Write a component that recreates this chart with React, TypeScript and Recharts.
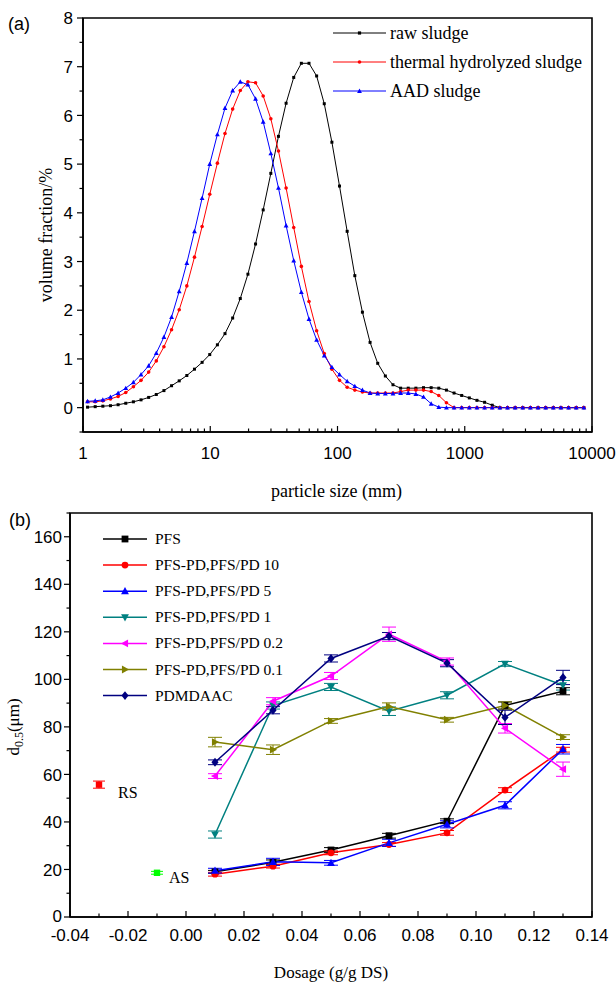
import React from 'react';
import { LineChart, ComposedChart, Line, XAxis, YAxis, ErrorBar, ReferenceArea, Legend } from 'recharts';

// ---------- (a) particle size distribution ----------
const particleSize = [
  1.086, 1.247, 1.432, 1.644, 1.888, 2.168, 2.489, 2.858, 3.281, 3.767,
  4.325, 4.966, 5.702, 6.546, 7.516, 8.63, 9.908, 11.38, 13.06, 15.0,
  17.22, 19.77, 22.7, 26.06, 29.92, 34.36, 39.45, 45.29, 52.0, 59.7,
  68.55, 78.7, 90.36, 103.7, 119.1, 136.8, 157.0, 180.3, 207.0, 237.7,
  272.9, 313.3, 359.7, 413.0, 474.2, 544.5, 625.2, 717.8, 824.1, 946.2,
  1086, 1247, 1432, 1644, 1888, 2168, 2489, 2858, 3281, 3767,
  4325, 4966, 5702, 6546, 7516, 8630,
];
const rawSludge = [
  0.01, 0.02, 0.03, 0.04, 0.06, 0.09, 0.12, 0.16, 0.21, 0.27,
  0.35, 0.45, 0.55, 0.66, 0.79, 0.93, 1.09, 1.29, 1.52, 1.84,
  2.24, 2.74, 3.36, 4.06, 4.81, 5.57, 6.25, 6.78, 7.07, 7.07,
  6.81, 6.24, 5.45, 4.55, 3.62, 2.71, 1.96, 1.34, 0.91, 0.65,
  0.47, 0.4, 0.4, 0.4, 0.41, 0.41, 0.4, 0.36, 0.3, 0.25,
  0.2, 0.15, 0.11, 0.05, 0, 0, 0, 0, 0, 0,
  0, 0, 0, 0, 0, 0,
];
const thermalSludge = [
  0.12, 0.12, 0.14, 0.18, 0.23, 0.31, 0.43, 0.56, 0.73, 0.96,
  1.25, 1.6, 2.01, 2.5, 3.09, 3.72, 4.38, 5.02, 5.63, 6.13,
  6.51, 6.69, 6.67, 6.4, 5.93, 5.27, 4.51, 3.7, 2.9, 2.18,
  1.58, 1.11, 0.79, 0.56, 0.42, 0.36, 0.32, 0.3, 0.3, 0.3,
  0.3, 0.33, 0.36, 0.36, 0.36, 0.33, 0.25, 0.1, 0, 0,
  0, 0, 0, 0, 0, 0, 0, 0, 0, 0,
  0, 0, 0, 0, 0, 0,
];
const aadSludge = [
  0.13, 0.14, 0.16, 0.22, 0.3, 0.4, 0.52, 0.68, 0.86, 1.12,
  1.45, 1.86, 2.39, 2.97, 3.62, 4.3, 5.0, 5.61, 6.15, 6.51,
  6.69, 6.63, 6.34, 5.87, 5.22, 4.51, 3.74, 3.02, 2.37, 1.82,
  1.39, 1.07, 0.83, 0.68, 0.54, 0.44, 0.36, 0.3, 0.29, 0.29,
  0.29, 0.3, 0.3, 0.28, 0.22, 0.08, 0.01, 0, 0, 0,
  0, 0, 0, 0, 0, 0, 0, 0, 0, 0,
  0, 0, 0, 0, 0, 0,
];
const topXMajor = [1, 10, 100, 1000, 10000];
const topXMinorFactors = [2, 3, 4, 5, 6, 7, 8, 9];
const topYMajor = [0, 1, 2, 3, 4, 5, 6, 7, 8];
const topLegendNames = ['raw sludge', 'thermal hydrolyzed sludge', 'AAD sludge'];

// ---------- (b) d0.5 vs dosage ----------
const dosage = [0.01, 0.03, 0.05, 0.07, 0.09, 0.11, 0.13];
const pfs = [19, 23, 28.2, 34.2, 40.3, 89, 95];
const pfsErr = [0.6, 1, 1, 1, 1, 1.5, 1.5];
const pfsPd10 = [18, 21.4, 27, 30.5, 35.4, 53.4, 70.4];
const pfsPd10Err = [0.8, 0.8, 0.8, 0.8, 1, 1, 1];
const pfsPd5 = [19.5, 23.2, 22.8, 31.2, 39, 47, 70.6];
const pfsPd5Err = [1, 1.5, 1, 1.5, 1.5, 1.5, 2];
const pfsPd1 = [34.7, 89, 96.8, 86.6, 93.3, 106.5, 97.5];
const pfsPd1Err = [1.5, 1.5, 1.5, 1.8, 1.5, 1, 2];
const pfsPd02 = [59.3, 90.8, 101.4, 119, 107.5, 79.4, 62.2];
const pfsPd02Err = [1, 1.5, 1.5, 3, 1.5, 2, 3];
const pfsPd01 = [73.6, 70.4, 82.5, 88.6, 83, 89, 75.7];
const pfsPd01Err = [2, 2, 1, 1.5, 1, 1.5, 1];
const pdmdaac = [65.1, 87, 108.8, 118.2, 106.8, 84, 100.8];
const pdmdaacErr = [1, 1.5, 1.5, 1.5, 1.5, 3, 3];
const rsDose = [-0.03];
const rsValue = [55.7];
const rsErr = [1.5];
const asDose = [-0.01];
const asValue = [18.6];
const asErr = [0.6];
const botXMajor = [-0.04, -0.02, 0, 0.02, 0.04, 0.06, 0.08, 0.1, 0.12, 0.14];
const botXMinor = [-0.03, -0.01, 0.01, 0.03, 0.05, 0.07, 0.09, 0.11, 0.13];
const botYMajor = [0, 20, 40, 60, 80, 100, 120, 140, 160];
const botYMinor = [10, 30, 50, 70, 90, 110, 130, 150, 170];

const SANS = '"Liberation Sans", Arial, sans-serif';
const SERIF = '"Liberation Serif", "Times New Roman", serif';

const topData = particleSize.map((x, i) => ({ x, raw: rawSludge[i], th: thermalSludge[i], aad: aadSludge[i] }));
const topXTicks: number[] = [];
topXMajor.forEach((m, i) => {
  topXTicks.push(m);
  if (i < topXMajor.length - 1) topXMinorFactors.forEach((f) => topXTicks.push(f * m));
});
const topYTicks: number[] = [-0.5];
topYMajor.forEach((m, i) => {
  topYTicks.push(m);
  if (i < topYMajor.length - 1) topYTicks.push(m + 0.5);
});

const mk = (vals: number[], errs: number[]) => dosage.map((x, i) => ({ x, y: vals[i], e: errs[i] }));
const botSeries = [
  { name: 'PFS', data: mk(pfs, pfsErr), color: '#000000', kind: 'square' },
  { name: 'PFS-PD,PFS/PD 10', data: mk(pfsPd10, pfsPd10Err), color: '#ff0000', kind: 'circle' },
  { name: 'PFS-PD,PFS/PD 5', data: mk(pfsPd5, pfsPd5Err), color: '#0000ff', kind: 'up' },
  { name: 'PFS-PD,PFS/PD 1', data: mk(pfsPd1, pfsPd1Err), color: '#008080', kind: 'down' },
  { name: 'PFS-PD,PFS/PD 0.2', data: mk(pfsPd02, pfsPd02Err), color: '#ff00ff', kind: 'left' },
  { name: 'PFS-PD,PFS/PD 0.1', data: mk(pfsPd01, pfsPd01Err), color: '#808000', kind: 'right' },
  { name: 'PDMDAAC', data: mk(pdmdaac, pdmdaacErr), color: '#000080', kind: 'diamond' },
];
const rsData = rsDose.map((x, i) => ({ x, y: rsValue[i], e: rsErr[i] }));
const asData = asDose.map((x, i) => ({ x, y: asValue[i], e: asErr[i] }));
const botXTicks = [...botXMajor, ...botXMinor].sort((a, b) => a - b);
const botYTicks = [...botYMajor, ...botYMinor].sort((a, b) => a - b);

function Marker({ kind, cx, cy, s, color }: any) {
  if (cx == null || cy == null) return <g />;
  switch (kind) {
    case 'square':
      return <rect x={cx - s} y={cy - s} width={2 * s} height={2 * s} fill={color} />;
    case 'circle':
      return <circle cx={cx} cy={cy} r={s} fill={color} />;
    case 'up':
      return <polygon points={`${cx},${cy - s * 1.2} ${cx - s * 1.15},${cy + s * 0.9} ${cx + s * 1.15},${cy + s * 0.9}`} fill={color} />;
    case 'down':
      return <polygon points={`${cx},${cy + s * 1.2} ${cx - s * 1.15},${cy - s * 0.9} ${cx + s * 1.15},${cy - s * 0.9}`} fill={color} />;
    case 'left':
      return <polygon points={`${cx - s * 1.2},${cy} ${cx + s * 0.9},${cy - s * 1.15} ${cx + s * 0.9},${cy + s * 1.15}`} fill={color} />;
    case 'right':
      return <polygon points={`${cx + s * 1.2},${cy} ${cx - s * 0.9},${cy - s * 1.15} ${cx - s * 0.9},${cy + s * 1.15}`} fill={color} />;
    case 'diamond':
      return <polygon points={`${cx},${cy - s * 1.3} ${cx + s * 1.05},${cy} ${cx},${cy + s * 1.3} ${cx - s * 1.05},${cy}`} fill={color} />;
    default:
      return <g />;
  }
}

const dotFn = (kind: string, s: number, color: string) => (p: any) => (
  <Marker key={`d${p.index}`} kind={kind} cx={p.cx} cy={p.cy} s={s} color={color} />
);

// ---- ticks ----
function TopXTick(props: any) {
  const { x, y, payload } = props;
  const v = payload.value;
  const major = topXMajor.includes(v);
  return (
    <g>
      <line x1={x} x2={x} y1={y} y2={y - (major ? 6 : 3.5)} stroke="#000" strokeWidth={1.2} />
      {major && (
        <text x={x} y={y + 27} textAnchor="middle" fontFamily={SANS} fontSize={17} fill="#000">{v}</text>
      )}
    </g>
  );
}
function TopYTick(props: any) {
  const { x, y, payload } = props;
  const v = payload.value;
  const major = topYMajor.includes(v);
  return (
    <g>
      <line x1={x - (major ? 6 : 3.5)} x2={x} y1={y} y2={y} stroke="#000" strokeWidth={1.2} />
      {major && (
        <text x={x - 10} y={y} dy="0.36em" textAnchor="end" fontFamily={SANS} fontSize={17} fill="#000">{v}</text>
      )}
    </g>
  );
}
function BotXTick(props: any) {
  const { x, y, payload } = props;
  const v = payload.value;
  const major = botXMajor.some((m) => Math.abs(m - v) < 1e-9);
  return (
    <g>
      <line x1={x} x2={x} y1={y} y2={y - (major ? 6 : 3.5)} stroke="#000" strokeWidth={1.2} />
      {major && (
        <text x={x} y={y + 24} textAnchor="middle" fontFamily={SANS} fontSize={17} fill="#000">{v.toFixed(2)}</text>
      )}
    </g>
  );
}
function BotYTick(props: any) {
  const { x, y, payload } = props;
  const v = payload.value;
  const major = botYMajor.includes(v);
  return (
    <g>
      <line x1={x - (major ? 6 : 3.5)} x2={x} y1={y} y2={y} stroke="#000" strokeWidth={1.2} />
      {major && (
        <text x={x - 8} y={y} dy={v === 0 ? '0.3em' : '0.36em'} textAnchor="end" fontFamily={SANS} fontSize={17} fill="#000">{v}</text>
      )}
    </g>
  );
}

// ---- titles ----
const topXTitle = (p: any) => {
  const vb = p.viewBox;
  return (
    <text x={vb.x + vb.width / 2 - 1} y={vb.y + 65} textAnchor="middle" fontFamily={SERIF} fontSize={18} fill="#000">particle size (mm)</text>
  );
};
const topYTitle = (p: any) => {
  const vb = p.viewBox;
  const cx = 52;
  const cy = vb.y + vb.height / 2 + 10;
  return (
    <text x={cx} y={cy} transform={`rotate(-90, ${cx}, ${cy})`} textAnchor="middle" fontFamily={SERIF} fontSize={18} fill="#000">volume fraction/%</text>
  );
};
const botXTitle = (p: any) => {
  const vb = p.viewBox;
  return (
    <text x={vb.x + vb.width / 2} y={vb.y + 61} textAnchor="middle" fontFamily={SERIF} fontSize={17} fill="#000">Dosage (g/g DS)</text>
  );
};
const botYTitle = (p: any) => {
  const vb = p.viewBox;
  const cx = 19;
  const cy = vb.y + vb.height / 2 + 12;
  return (
    <text x={cx} y={cy} transform={`rotate(-90, ${cx}, ${cy})`} textAnchor="middle" fontFamily={SERIF} fontSize={17} fill="#000">
      d<tspan dy={4} fontSize={12}>0.5</tspan><tspan dy={-4}>(μm)</tspan>
    </text>
  );
};

// ---- legends ----
const topLegendStyle = [
  { color: '#000000', kind: 'square', s: 1.6 },
  { color: '#ff0000', kind: 'circle', s: 1.8 },
  { color: '#0000ff', kind: 'up', s: 2.1 },
];
function TopLegend() {
  return (
    <svg width={290} height={95}>
      {topLegendNames.map((n, i) => {
        const y = 18 + i * 29;
        const st = topLegendStyle[i];
        return (
          <g key={n}>
            <line x1={13} x2={66} y1={y} y2={y} stroke={st.color} strokeWidth={1} />
            <Marker kind={st.kind} cx={39.5} cy={y} s={st.s} color={st.color} />
            <text x={70} y={y + 6} fontFamily={SERIF} fontSize={18} fill="#000">{n}</text>
          </g>
        );
      })}
    </svg>
  );
}
function BotLegend() {
  return (
    <svg width={300} height={195}>
      {botSeries.map((s, i) => {
        const y = 19 + i * 26.1;
        return (
          <g key={s.name}>
            <line x1={8} x2={52} y1={y} y2={y} stroke={s.color} strokeWidth={1.5} />
            <Marker kind={s.kind} cx={30} cy={y} s={3.4} color={s.color} />
            <text x={60} y={y + 5} fontFamily={SERIF} fontSize={15.5} fill="#000">{s.name}</text>
          </g>
        );
      })}
    </svg>
  );
}

const labelDot = (color: string, label: string, dx: number, dy: number) => (p: any) => (
  <g key={`l${p.index}`}>
    <Marker kind="square" cx={p.cx} cy={p.cy} s={3.2} color={color} />
    <text x={p.cx + dx} y={p.cy + dy} fontFamily={SERIF} fontSize={16} fill="#000">{label}</text>
  </g>
);

const axisLine = { stroke: '#000', strokeWidth: 1.6 };

export default function App() {
  return (
    <div style={{ position: 'absolute', left: 0, top: 0, width: 616, height: 982, background: '#fff', overflow: 'hidden' }}>
      <div style={{ position: 'absolute', left: 0, top: 0 }}>
        <LineChart width={616} height={505} data={topData} margin={{ top: 18, right: 24, left: 33, bottom: 28 }}>
          <XAxis
            dataKey="x"
            type="number"
            scale="log"
            domain={[1, 10000]}
            allowDataOverflow
            ticks={topXTicks}
            interval={0}
            tick={TopXTick}
            tickLine={false}
            tickSize={0}
            tickMargin={0}
            axisLine={axisLine}
            height={45}
            label={topXTitle}
          />
          <YAxis
            type="number"
            domain={[-0.5, 8]}
            allowDataOverflow
            ticks={topYTicks}
            interval={0}
            tick={TopYTick}
            tickLine={false}
            tickSize={0}
            tickMargin={0}
            axisLine={axisLine}
            width={50}
            label={topYTitle}
          />
          <ReferenceArea x1={1} x2={10000} y1={-0.5} y2={8} fill="none" stroke="#000" strokeWidth={1.6} ifOverflow="visible" />
          <Line dataKey="raw" stroke="#000000" strokeWidth={1} isAnimationActive={false} dot={dotFn('square', 1.5, '#000000')} />
          <Line dataKey="th" stroke="#ff0000" strokeWidth={1} isAnimationActive={false} dot={dotFn('circle', 1.8, '#ff0000')} />
          <Line dataKey="aad" stroke="#0000ff" strokeWidth={1} isAnimationActive={false} dot={dotFn('up', 2.1, '#0000ff')} />
          <Legend content={TopLegend} layout="horizontal" verticalAlign="middle" align="center" wrapperStyle={{ left: 320, top: 15, width: 290, height: 95 }} />
        </LineChart>
      </div>
      <div style={{ position: 'absolute', left: 0, top: 505 }}>
        <ComposedChart width={616} height={477} margin={{ top: 8, right: 24, left: 25, bottom: 20 }}>
          <XAxis
            dataKey="x"
            type="number"
            domain={[-0.04, 0.14]}
            allowDataOverflow
            ticks={botXTicks}
            interval={0}
            tick={BotXTick}
            tickLine={false}
            tickSize={0}
            tickMargin={0}
            axisLine={axisLine}
            height={45}
            label={botXTitle}
          />
          <YAxis
            type="number"
            domain={[0, 170]}
            allowDataOverflow
            ticks={botYTicks}
            interval={0}
            tick={BotYTick}
            tickLine={false}
            tickSize={0}
            tickMargin={0}
            axisLine={axisLine}
            width={45}
            label={botYTitle}
          />
          <ReferenceArea x1={-0.04} x2={0.14} y1={0} y2={170} fill="none" stroke="#000" strokeWidth={1.6} ifOverflow="visible" />
          {botSeries.map((s) => (
            <Line
              key={s.name}
              data={s.data}
              dataKey="y"
              stroke={s.color}
              strokeWidth={1.5}
              isAnimationActive={false}
              dot={dotFn(s.kind, 3.4, s.color)}
            >
              <ErrorBar dataKey="e" width={7} stroke={s.color} strokeWidth={1} direction="y" />
            </Line>
          ))}
          <Line data={rsData} dataKey="y" stroke="none" isAnimationActive={false} dot={labelDot('#ff0000', 'RS', 19, 13)}>
            <ErrorBar dataKey="e" width={6} stroke="#ff0000" strokeWidth={1} direction="y" />
          </Line>
          <Line data={asData} dataKey="y" stroke="none" isAnimationActive={false} dot={labelDot('#00ff00', 'AS', 12, 10)}>
            <ErrorBar dataKey="e" width={6} stroke="#00ff00" strokeWidth={1} direction="y" />
          </Line>
          <Legend content={BotLegend} layout="horizontal" verticalAlign="middle" align="center" wrapperStyle={{ left: 95, top: 15, width: 300, height: 195 }} />
        </ComposedChart>
      </div>
      <svg width={616} height={982} style={{ position: 'absolute', left: 0, top: 0, pointerEvents: 'none' }}>
        <text x={8} y={30} fontFamily={SANS} fontSize={18} fill="#000">(a)</text>
        <text x={9} y={526} fontFamily={SANS} fontSize={18} fill="#000">(b)</text>
      </svg>
    </div>
  );
}
